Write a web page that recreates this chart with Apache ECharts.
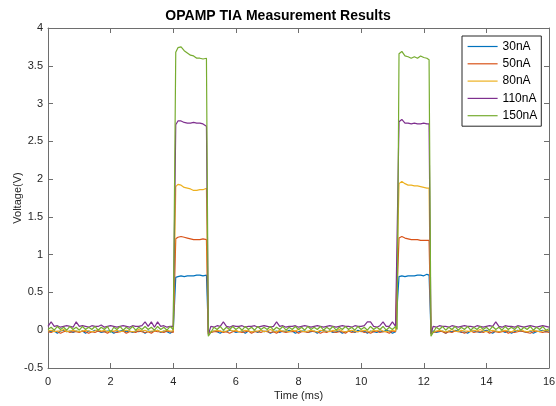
<!DOCTYPE html>
<html><head><meta charset="utf-8">
<script src="https://cdn.jsdelivr.net/npm/echarts@6/dist/echarts.min.js"></script>
<style>html,body{margin:0;padding:0;background:#fff}#c{width:556px;height:406px}</style>
</head><body><div id="c"></div>
<script>
const timeMs = [
0,0.1,0.2,0.3,0.4,0.5,0.6,0.7,0.8,0.9,1,1.1,1.2,1.3,1.4,1.5,1.6,1.7,1.8,1.9,2,2.1,2.2,2.3,2.4,2.5,2.6,2.7,2.8,2.9,3,3.1,3.2,3.3,3.4,3.5,3.6,3.7,3.8,3.9,4,
4.08,4.15,4.25,4.35,4.45,4.55,4.65,4.75,4.85,4.95,5.06,
5.12,
5.2,5.3,5.4,5.5,5.6,5.7,5.8,5.9,6,6.1,6.2,6.3,6.4,6.5,6.6,6.7,6.8,6.9,7,7.1,7.2,7.3,7.4,7.5,7.6,7.7,7.8,7.9,8,8.1,8.2,8.3,8.4,8.5,8.6,8.7,8.8,8.9,9,9.1,9.2,9.3,9.4,9.5,9.6,9.7,9.8,9.9,10,10.1,10.2,10.3,10.4,10.5,10.6,10.7,10.8,10.9,11,11.1,11.15,
11.21,11.3,11.4,11.5,11.6,11.7,11.8,11.9,12,12.1,12.17,
12.23,
12.3,12.4,12.5,12.6,12.7,12.8,12.9,13,13.1,13.2,13.3,13.4,13.5,13.6,13.7,13.8,13.9,14,14.1,14.2,14.3,14.4,14.5,14.6,14.7,14.8,14.9,15,15.1,15.2,15.3,15.4,15.5,15.6,15.7,15.8,15.9,16
];
const seriesNames = ['30nA','50nA','80nA','110nA','150nA'];
const v30 = [
-0.01,-0.02,-0.01,-0.04,-0.01,0,-0.02,-0.01,-0.03,-0.01,-0.02,-0.01,-0.04,-0.01,-0.02,0,-0.01,-0.03,-0.02,-0.01,-0.01,-0.04,-0.02,-0.01,0,-0.02,-0.01,-0.03,-0.01,-0.02,-0.01,-0.04,-0.01,-0.02,-0.01,0,-0.03,-0.01,-0.02,-0.04,-0.01,
0.70,0.71,0.72,0.71,0.72,0.72,0.72,0.73,0.73,0.72,0.73,
-0.02,
-0.03,-0.01,-0.02,-0.04,-0.01,-0.02,0,-0.01,-0.03,-0.02,-0.01,-0.04,-0.01,-0.02,-0.01,-0.03,0,-0.02,-0.01,-0.04,-0.02,-0.01,-0.03,-0.01,-0.02,0,-0.01,-0.04,-0.02,-0.01,-0.01,-0.03,-0.02,-0.01,-0.04,-0.01,0,-0.02,-0.01,-0.03,-0.02,-0.01,-0.04,-0.02,-0.01,-0.01,-0.03,0,-0.02,-0.01,-0.04,-0.01,-0.02,-0.03,-0.01,-0.02,0,-0.01,-0.04,-0.02,-0.01,
0.71,0.72,0.71,0.72,0.72,0.72,0.73,0.73,0.72,0.74,0.73,
-0.02,
-0.01,-0.03,-0.02,-0.01,-0.04,-0.01,-0.02,0,-0.01,-0.03,-0.02,-0.04,-0.01,-0.01,-0.02,-0.03,-0.01,0,-0.02,-0.04,-0.01,-0.02,-0.01,-0.03,-0.01,-0.04,-0.02,0,-0.01,-0.02,-0.03,-0.01,-0.04,-0.02,-0.01,0,-0.02,-0.01
];
const v50 = [
-0.02,-0.03,-0.01,-0.02,-0.04,-0.02,-0.01,-0.03,-0.02,-0.02,-0.03,-0.01,-0.02,-0.04,-0.02,-0.03,-0.01,-0.02,-0.02,-0.04,-0.01,-0.02,-0.03,-0.02,-0.01,-0.04,-0.02,-0.02,-0.03,-0.01,-0.02,-0.03,-0.02,-0.04,-0.01,-0.02,-0.02,-0.03,-0.01,-0.02,-0.03,
1.21,1.23,1.24,1.23,1.22,1.21,1.20,1.20,1.20,1.21,1.20,
-0.04,
-0.03,-0.02,-0.02,-0.01,-0.03,-0.02,-0.04,-0.02,-0.01,-0.02,-0.03,-0.02,-0.01,-0.04,-0.02,-0.02,-0.03,-0.01,-0.02,-0.03,-0.02,-0.04,-0.01,-0.02,-0.03,-0.02,-0.02,-0.01,-0.04,-0.02,-0.02,-0.03,-0.01,-0.02,-0.02,-0.04,-0.02,-0.03,-0.01,-0.02,-0.03,-0.02,-0.02,-0.04,-0.01,-0.03,-0.02,-0.02,-0.01,-0.03,-0.02,-0.04,-0.02,-0.01,-0.03,-0.02,-0.02,-0.04,-0.01,-0.02,-0.03,
1.22,1.24,1.22,1.21,1.20,1.20,1.20,1.19,1.19,1.19,1.19,
-0.04,
-0.03,-0.02,-0.01,-0.02,-0.04,-0.02,-0.03,-0.01,-0.02,-0.02,-0.04,-0.02,-0.01,-0.03,-0.02,-0.02,-0.03,-0.01,-0.04,-0.02,-0.02,-0.03,-0.02,-0.01,-0.04,-0.02,-0.03,-0.02,-0.01,-0.02,-0.03,-0.04,-0.02,-0.01,-0.02,-0.03,-0.02,-0.03
];
const v80 = [
-0.01,0,-0.02,-0.01,-0.01,0.01,-0.02,-0.01,0,-0.01,-0.02,-0.01,0,-0.01,-0.02,-0.01,0.01,-0.01,0,-0.02,-0.01,-0.01,0,-0.02,-0.01,0,-0.01,-0.02,-0.01,0.01,-0.01,0,-0.02,-0.01,-0.01,0,-0.02,-0.01,0,-0.01,-0.01,
1.90,1.93,1.92,1.89,1.88,1.87,1.85,1.85,1.86,1.86,1.88,
-0.05,
-0.02,-0.01,0,-0.01,-0.02,-0.01,0.01,-0.01,0,-0.02,-0.01,0,-0.01,-0.02,-0.01,-0.01,0,-0.02,-0.01,0.01,-0.01,-0.02,0,-0.01,-0.01,-0.02,0,-0.01,0.01,-0.01,-0.02,-0.01,0,-0.01,-0.02,0,-0.01,-0.01,-0.02,0,-0.01,0.01,-0.01,-0.02,-0.01,0,-0.01,-0.02,-0.01,0,-0.01,-0.02,0,-0.01,0.01,-0.01,-0.02,-0.01,0,-0.01,-0.02,
1.94,1.97,1.94,1.92,1.92,1.91,1.91,1.90,1.89,1.88,1.88,
-0.05,
-0.02,-0.01,0,-0.01,-0.02,-0.01,0.01,-0.01,-0.02,0,-0.01,-0.01,-0.02,0,-0.01,0.01,-0.01,-0.02,-0.01,0,-0.01,-0.02,-0.01,0,-0.01,-0.02,0,-0.01,0.01,-0.01,-0.02,-0.01,0,-0.01,-0.02,-0.01,0,-0.01
];
const v110 = [
0.05,0.11,0.05,0.06,0.04,0.05,0.06,0.05,0.04,0.11,0.05,0.06,0.05,0.04,0.06,0.05,0.05,0.07,0.04,0.05,0.06,0.05,0.04,0.05,0.06,0.05,0.04,0.06,0.05,0.05,0.06,0.11,0.05,0.11,0.04,0.11,0.05,0.06,0.04,0.05,0.05,
2.72,2.77,2.77,2.75,2.74,2.74,2.75,2.74,2.74,2.73,2.70,
-0.06,
0.05,0.04,0.06,0.05,0.11,0.05,0.04,0.06,0.05,0.05,0.06,0.04,0.05,0.05,0.06,0.04,0.05,0.06,0.05,0.04,0.05,0.11,0.05,0.06,0.04,0.05,0.05,0.06,0.04,0.05,0.06,0.05,0.04,0.05,0.06,0.05,0.04,0.05,0.06,0.05,0.04,0.05,0.06,0.05,0.05,0.04,0.06,0.05,0.05,0.06,0.11,0.11,0.05,0.04,0.06,0.11,0.05,0.05,0.11,0.05,0.05,
2.76,2.79,2.74,2.74,2.73,2.74,2.73,2.73,2.74,2.73,2.73,
-0.05,
0.05,0.04,0.06,0.05,0.05,0.04,0.06,0.05,0.04,0.05,0.06,0.05,0.05,0.04,0.06,0.05,0.04,0.05,0.06,0.05,0.11,0.05,0.04,0.06,0.05,0.05,0.04,0.06,0.05,0.04,0.05,0.06,0.05,0.04,0.05,0.06,0.05,0.04
];
const v150 = [
0.01,0.04,0.00,0.05,0.01,0.04,0.00,0.05,0.01,0.04,0.00,0.05,0.01,0.04,0.01,0.05,0.00,0.04,0.01,0.05,-0.03,0.04,0.01,0.05,0.00,0.04,0.01,0.05,0.00,0.04,0.01,0.05,0.01,0.04,0.00,0.05,0.01,0.04,0.00,0.05,0.01,
3.68,3.74,3.75,3.70,3.67,3.64,3.63,3.60,3.60,3.59,3.60,
-0.08,
-0.03,0.04,0.01,0.05,0.00,0.04,0.01,0.05,0.01,0.04,0.00,0.05,0.01,0.04,0.00,0.05,0.01,0.04,0.01,0.05,0.00,0.04,0.01,0.05,0.00,0.04,0.01,0.05,0.01,0.04,0.00,0.05,0.01,0.04,0.01,0.05,0.00,0.04,0.01,0.05,0.00,0.04,0.01,0.05,0.01,0.04,0.00,0.05,0.01,0.04,0.00,0.05,0.01,0.04,0.01,0.05,0.00,0.04,0.01,0.05,0.01,
3.66,3.69,3.63,3.62,3.60,3.62,3.60,3.63,3.61,3.60,3.58,
-0.08,
-0.03,0.04,0.01,0.05,0.00,0.04,0.01,0.05,0.00,0.04,0.01,0.05,0.00,0.04,0.01,0.05,0.01,0.04,0.00,0.05,0.01,0.04,0.00,0.05,0.01,0.04,0.01,0.05,0.00,0.04,0.01,0.05,0.00,0.04,0.01,0.05,0.00,0.02
];
const colors = ['#0072BD','#D95319','#EDB120','#7E2F8E','#77AC30'];
const allValues = [v30, v50, v80, v110, v150];

const font = '"Liberation Sans", Arial, Helvetica, sans-serif';
const axisCol = '#6e6e6e';
const textCol = '#262626';
const chart = echarts.init(document.getElementById('c'), null, {renderer: 'canvas'});

const series = seriesNames.map((n, i) => ({
  name: n, type: 'line', symbol: 'none', showSymbol: false,
  data: timeMs.map((t, k) => [t, allValues[i][k]]),
  lineStyle: {width: 1.2, color: colors[i]},
  itemStyle: {color: colors[i]},
  emphasis: {disabled: true},
  animation: false
}));

const xBase = {type: 'value', min: 0, max: 16, interval: 2,
  axisLine: {show: true, onZero: false, lineStyle: {color: axisCol, width: 1}},
  axisTick: {show: true, inside: true, length: 5, lineStyle: {color: axisCol}},
  splitLine: {show: false}};
const yBase = {type: 'value', min: -0.5, max: 4, interval: 0.5,
  axisLine: {show: true, onZero: false, lineStyle: {color: axisCol, width: 1}},
  axisTick: {show: true, inside: true, length: 5, lineStyle: {color: axisCol}},
  splitLine: {show: false}};

chart.setOption({
  animation: false,
  backgroundColor: '#ffffff',
  title: {text: 'OPAMP TIA Measurement Results', left: 'center', top: 4,
    textStyle: {fontFamily: font, fontSize: 14, fontWeight: 'bold', color: '#000'}},
  grid: {left: 48, right: 7, top: 28, bottom: 38, outerBoundsMode: 'none', containLabel: false},
  legend: {
    orient: 'vertical', left: 462, top: 36,
    data: seriesNames,
    itemWidth: 30, itemHeight: 13, itemGap: 4.3,
    itemStyle: {opacity: 0},
    lineStyle: {width: 1.2},
    padding: [4, 4, 4, 5],
    borderColor: '#262626', borderWidth: 1, backgroundColor: '#fff',
    textStyle: {fontFamily: font, fontSize: 12, color: '#000', lineHeight: 13},
    selectedMode: false
  },
  xAxis: [
    Object.assign({}, xBase, {position: 'bottom', name: 'Time (ms)', nameLocation: 'middle', nameGap: 22,
      nameMoveOverlap: false,
      nameTextStyle: {fontFamily: font, fontSize: 11, color: textCol},
      axisLabel: {fontFamily: font, fontSize: 11, color: textCol, margin: 8}}),
    Object.assign({}, xBase, {position: 'top', axisLabel: {show: false}})
  ],
  yAxis: [
    Object.assign({}, yBase, {position: 'left', name: 'Voltage(V)', nameLocation: 'middle', nameGap: 25,
      nameMoveOverlap: false,
      nameTextStyle: {fontFamily: font, fontSize: 11, color: textCol},
      axisLabel: {fontFamily: font, fontSize: 11, color: textCol, margin: 5}}),
    Object.assign({}, yBase, {position: 'right', axisLabel: {show: false}})
  ],
  series: series
});
</script></body></html>
